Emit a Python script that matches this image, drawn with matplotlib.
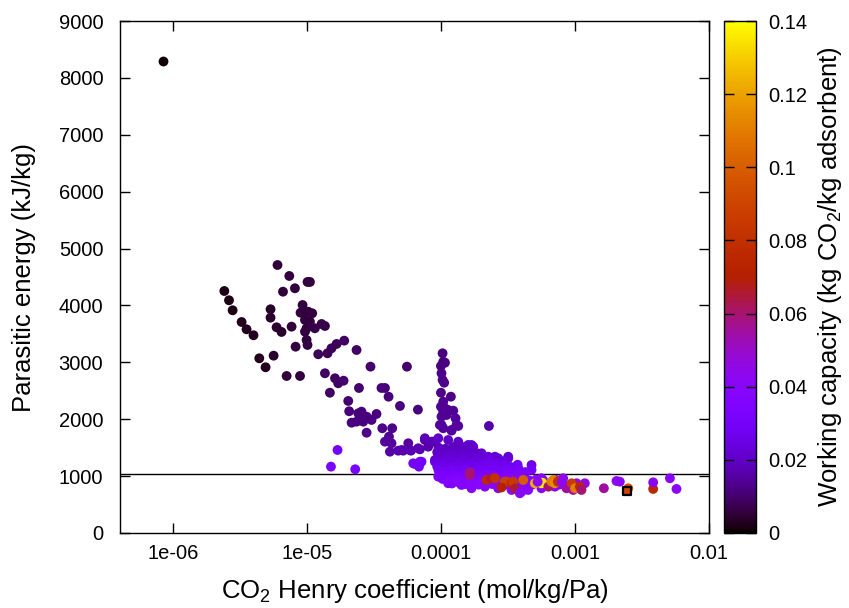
import numpy as np
import matplotlib
matplotlib.use("Agg")
import matplotlib.pyplot as plt
from matplotlib.ticker import FixedLocator, FixedFormatter, NullLocator

plt.rcParams['font.family'] = ['Liberation Sans', 'DejaVu Sans']
plt.rcParams['mathtext.fontset'] = 'custom'
plt.rcParams['mathtext.rm'] = 'Liberation Sans'

# (log10 Henry coefficient, parasitic energy kJ/kg, working capacity)
outlier = [(-6.075, 8298, 0.001)]

sparse_low_kh = [
    (-5.619, 4254, 0.002), (-5.584, 4091, 0.002), (-5.557, 3915, 0.002), (-5.490, 3709, 0.003),
    (-5.453, 3581, 0.003), (-5.401, 3476, 0.003), (-5.358, 3071, 0.003), (-5.311, 2913, 0.003),
    (-5.251, 3117, 0.004), (-5.274, 3933, 0.004), (-5.274, 3785, 0.004), (-5.229, 3616, 0.004),
    (-5.192, 3534, 0.004), (-5.222, 4711, 0.005), (-5.134, 4518, 0.006), (-5.092, 4302, 0.006),
    (-5.181, 4242, 0.005), (-4.998, 4413, 0.006), (-4.980, 4413, 0.006), (-5.117, 3627, 0.005),
    (-5.035, 4008, 0.006), (-5.050, 3873, 0.006), (-4.993, 3890, 0.006), (-4.963, 3862, 0.006),
    (-5.017, 3745, 0.006), (-4.980, 3715, 0.006), (-5.005, 3599, 0.006), (-5.017, 3539, 0.006),
    (-4.943, 3599, 0.007), (-4.893, 3674, 0.007), (-4.868, 3639, 0.007), (-5.087, 3275, 0.006),
    (-5.005, 3393, 0.006), (-4.998, 3305, 0.006), (-5.154, 2760, 0.005), (-5.054, 2760, 0.006),
    (-4.918, 3142, 0.008), (-4.849, 3159, 0.008), (-4.819, 3247, 0.008), (-4.781, 3323, 0.008),
    (-4.724, 3381, 0.009), (-4.632, 3217, 0.009), (-4.528, 2924, 0.010), (-4.256, 2924, 0.010),
    (-4.868, 2808, 0.009), (-4.793, 2720, 0.009), (-4.769, 2632, 0.009), (-4.729, 2677, 0.010),
    (-4.831, 2466, 0.009), (-4.614, 2549, 0.010), (-4.446, 2549, 0.011), (-4.420, 2549, 0.011),
    (-4.393, 2396, 0.011), (-4.308, 2233, 0.012), (-4.174, 2168, 0.012), (-4.694, 2321, 0.010),
    (-4.687, 2140, 0.011), (-4.619, 2104, 0.011), (-4.595, 2133, 0.011), (-4.599, 1987, 0.012),
    (-4.557, 2045, 0.012), (-4.520, 1987, 0.012), (-4.483, 2092, 0.012), (-4.669, 1939, 0.012),
    (-4.632, 1957, 0.012), (-4.582, 1957, 0.012), (-4.557, 1763, 0.013), (-4.440, 1841, 0.013),
    (-4.366, 1841, 0.013), (-4.420, 1605, 0.015), (-4.390, 1693, 0.014), (-4.371, 1577, 0.015),
    (-4.383, 1429, 0.016), (-4.321, 1447, 0.016), (-4.284, 1447, 0.016), (-4.246, 1577, 0.015),
    (-4.226, 1447, 0.016), (-4.159, 1471, 0.016), (-4.122, 1635, 0.015), (-4.097, 1517, 0.016),
    (-4.060, 1605, 0.016), (-4.296, 1459, 0.017), (-4.234, 1459, 0.017), (-4.122, 1665, 0.018),
    (-4.172, 1489, 0.018), (-4.072, 1605, 0.018),
    (-4.774, 1459, 0.030), (-4.823, 1166, 0.032), (-4.642, 1120, 0.032), (-4.196, 1213, 0.028),
    (-4.159, 1253, 0.028), (-4.047, 1253, 0.025), (-4.209, 1225, 0.030), (-4.147, 1253, 0.030),
    (-4.166, 1166, 0.030),
]

column_1e4 = [
    (-3.990, 3159, 0.012), (-3.985, 3011, 0.012), (-4.002, 2936, 0.012), (-3.972, 2994, 0.012),
    (-3.998, 2808, 0.013), (-3.990, 2690, 0.013), (-3.978, 2642, 0.013), (-4.002, 2466, 0.013),
    (-3.928, 2396, 0.013), (-3.985, 2308, 0.014), (-4.002, 2220, 0.014), (-3.972, 2192, 0.014),
    (-3.985, 2133, 0.014), (-3.948, 2162, 0.014), (-3.910, 2150, 0.014), (-3.998, 2045, 0.014),
    (-3.960, 2074, 0.014), (-3.893, 2016, 0.015), (-4.010, 1899, 0.015), (-3.985, 1841, 0.015),
    (-3.923, 1799, 0.015), (-3.873, 1881, 0.015), (-3.644, 1881, 0.016), (-3.998, 1899, 0.015),
    (-3.923, 1811, 0.015), (-3.886, 1899, 0.015),
]

cluster_core = [
    (-4.022, 1665, 0.020), (-3.948, 1635, 0.020), (-3.873, 1605, 0.020), (-3.799, 1547, 0.021),
    (-3.761, 1517, 0.021), (-3.699, 1371, 0.022), (-3.649, 1341, 0.022), (-3.575, 1313, 0.023),
    (-3.500, 1313, 0.023), (-3.948, 1429, 0.020), (-3.849, 1517, 0.020), (-3.774, 1547, 0.021),
    (-3.699, 1401, 0.022), (-3.599, 1341, 0.022), (-3.500, 1341, 0.022), (-3.438, 1166, 0.026),
    (-3.326, 1195, 0.026), (-3.326, 1108, 0.030), (-4.047, 1283, 0.022),
    (-4.02, 1500, 0.019), (-3.97, 1480, 0.019), (-3.91, 1510, 0.019), (-3.86, 1470, 0.019),
    (-3.81, 1495, 0.020),
    (-4.03, 1420, 0.020), (-3.98, 1440, 0.020), (-3.93, 1400, 0.020), (-3.88, 1430, 0.020),
    (-3.83, 1410, 0.021), (-3.78, 1440, 0.021), (-3.73, 1400, 0.021),
    (-4.02, 1350, 0.021), (-3.96, 1330, 0.022), (-3.92, 1360, 0.022), (-3.87, 1320, 0.022),
    (-3.82, 1350, 0.022), (-3.76, 1330, 0.022), (-3.72, 1300, 0.023), (-3.66, 1320, 0.023),
    (-4.04, 1260, 0.023), (-3.99, 1240, 0.024), (-3.94, 1270, 0.024), (-3.89, 1250, 0.024),
    (-3.84, 1280, 0.024), (-3.79, 1240, 0.024), (-3.74, 1260, 0.024), (-3.69, 1230, 0.025),
    (-3.64, 1270, 0.025), (-3.59, 1240, 0.025), (-3.54, 1260, 0.025),
    (-4.03, 1170, 0.026), (-3.98, 1190, 0.026), (-3.93, 1160, 0.026), (-3.88, 1200, 0.026),
    (-3.83, 1170, 0.026), (-3.78, 1190, 0.026), (-3.73, 1160, 0.027), (-3.68, 1180, 0.027),
    (-3.63, 1200, 0.027), (-3.58, 1170, 0.027), (-3.53, 1190, 0.027), (-3.48, 1160, 0.028),
    (-3.43, 1200, 0.028),
    (-4.02, 1100, 0.029), (-3.97, 1080, 0.029), (-3.92, 1110, 0.029), (-3.87, 1090, 0.029),
    (-3.82, 1120, 0.029), (-3.77, 1080, 0.030), (-3.72, 1100, 0.030), (-3.67, 1090, 0.030),
    (-3.62, 1110, 0.030), (-3.57, 1080, 0.030), (-3.52, 1100, 0.031), (-3.47, 1090, 0.031),
    (-3.42, 1120, 0.031), (-3.37, 1070, 0.031),
    (-4.01, 1030, 0.032), (-3.96, 1000, 0.032), (-3.91, 1020, 0.032), (-3.86, 990, 0.033),
    (-3.81, 1030, 0.033), (-3.76, 1010, 0.033), (-3.71, 1000, 0.033), (-3.66, 1030, 0.033),
    (-3.61, 1010, 0.034), (-3.56, 990, 0.034), (-3.51, 1020, 0.034), (-3.46, 1000, 0.034),
    (-3.41, 1030, 0.034),
    (-3.99, 950, 0.035), (-3.94, 930, 0.035), (-3.89, 960, 0.035), (-3.84, 920, 0.036),
    (-3.79, 950, 0.036), (-3.74, 930, 0.036), (-3.69, 960, 0.036), (-3.64, 920, 0.036),
    (-3.59, 940, 0.037), (-3.54, 920, 0.037), (-3.49, 950, 0.037), (-3.44, 930, 0.037),
    (-3.39, 950, 0.037), (-3.34, 920, 0.038), (-3.29, 940, 0.038), (-3.24, 930, 0.038),
]

cluster_lower = [
    (-3.92, 870, 0.038), (-3.87, 890, 0.038), (-3.82, 860, 0.038), (-3.77, 880, 0.038),
    (-3.72, 850, 0.039), (-3.67, 880, 0.039), (-3.62, 860, 0.039), (-3.57, 870, 0.039),
    (-3.52, 850, 0.040), (-3.47, 880, 0.040), (-3.42, 860, 0.040), (-3.37, 870, 0.040),
    (-3.32, 850, 0.041), (-3.27, 880, 0.041), (-3.22, 860, 0.041), (-3.17, 870, 0.041),
    (-3.12, 850, 0.041),
    (-4.022, 990, 0.033), (-3.948, 874, 0.036), (-3.849, 844, 0.037), (-3.774, 786, 0.038),
    (-3.674, 814, 0.038), (-3.575, 786, 0.038), (-3.475, 756, 0.039),
    (-3.351, 756, 0.040), (-3.252, 786, 0.040), (-3.152, 814, 0.040), (-3.077, 844, 0.040),
    (-3.252, 962, 0.040), (-3.142, 932, 0.045), (-3.090, 962, 0.045), (-2.990, 874, 0.045),
    (-2.928, 874, 0.045),
]

high_wc = [
    (-3.786, 1067, 0.058), (-3.786, 1020, 0.060), (-3.662, 932, 0.075), (-3.625, 962, 0.065),
    (-3.599, 962, 0.082), (-3.525, 902, 0.090), (-3.513, 902, 0.088), (-3.475, 874, 0.075),
    (-3.463, 902, 0.085), (-3.388, 932, 0.100), (-3.301, 874, 0.122), (-3.252, 874, 0.140),
    (-3.246, 884, 0.135), (-3.20, 814, 0.060), (-3.177, 902, 0.110), (-3.164, 932, 0.110),
    (-3.152, 874, 0.115), (-3.13, 902, 0.080), (-3.065, 786, 0.055), (-3.027, 874, 0.085),
    (-3.015, 756, 0.055), (-3.002, 786, 0.110), (-2.965, 814, 0.075), (-2.953, 756, 0.060),
    (-3.55, 800, 0.070), (-3.45, 780, 0.065),
]

front_purple = [
    (-3.413, 698, 0.040), (-3.401, 726, 0.042), (-3.28, 900, 0.042), (-3.10, 900, 0.044),
]

tail = [
    (-2.786, 786, 0.055), (-2.692, 914, 0.042), (-2.667, 902, 0.042), (-2.604, 786, 0.095),
    (-2.418, 774, 0.075), (-2.418, 890, 0.042), (-2.293, 962, 0.040), (-2.244, 774, 0.042),
]

highlight = [(-2.610, 740, 0.090)]

threshold = 1040
xticks = [1e-6, 1e-5, 1e-4, 1e-3, 1e-2]
xticklabels = ['1e-06', '1e-05', '0.0001', '0.001', '0.01']
cticks = [0, 0.02, 0.04, 0.06, 0.08, 0.1, 0.12, 0.14]
cticklabels = ['0', '0.02', '0.04', '0.06', '0.08', '0.1', '0.12', '0.14']

fig = plt.figure(figsize=(8.49, 6.08), dpi=100)
ax = fig.add_axes([0.1413, 0.1234, 0.694, 0.842])
cax = fig.add_axes([0.8528, 0.1234, 0.0377, 0.842])

cmap = plt.get_cmap('gnuplot')
groups = [outlier, sparse_low_kh, column_1e4, cluster_core, cluster_lower, high_wc,
          front_purple, tail]
sc = None
for g in groups:
    a = np.array(g)
    sc = ax.scatter(10 ** a[:, 0], a[:, 1], c=a[:, 2], cmap=cmap, vmin=0, vmax=0.14,
                    s=50, linewidths=0, zorder=2)

h = np.array(highlight)
ax.scatter(10 ** h[:, 0], h[:, 1], c=h[:, 2], cmap=cmap, vmin=0, vmax=0.14,
           marker='s', s=32, edgecolors='black', linewidths=1.6, zorder=3)

ax.axhline(threshold, color='black', lw=1.0, zorder=1)

ax.set_xscale('log')
ax.set_xlim(4e-7, 1e-2)
ax.set_ylim(0, 9000)
ax.xaxis.set_major_locator(FixedLocator(xticks))
ax.xaxis.set_major_formatter(FixedFormatter(xticklabels))
ax.xaxis.set_minor_locator(NullLocator())
ax.set_yticks(np.arange(0, 9001, 1000))
ax.tick_params(direction='in', length=7, width=1, top=True, right=True, labelsize=14.5)
ax.tick_params(axis='x', pad=8)
ax.tick_params(axis='y', pad=12)
for sp in ax.spines.values():
    sp.set_linewidth(1.0)

ax.set_xlabel('CO$_\\mathregular{2}$ Henry coefficient (mol/kg/Pa)', fontsize=18.5, labelpad=10)
ax.set_ylabel('Parasitic energy (kJ/kg)', fontsize=18.5, labelpad=16)

cb = fig.colorbar(sc, cax=cax)
cb.set_ticks(cticks)
cb.set_ticklabels(cticklabels)
cb.ax.tick_params(direction='in', length=7, width=1, left=True, right=True, labelsize=14.5, pad=9)
cb.outline.set_linewidth(1.0)
cb.set_label('Working capacity (kg CO$_\\mathregular{2}$/kg adsorbent)', fontsize=18.5, labelpad=6)

fig.savefig('out.png', dpi=100)
